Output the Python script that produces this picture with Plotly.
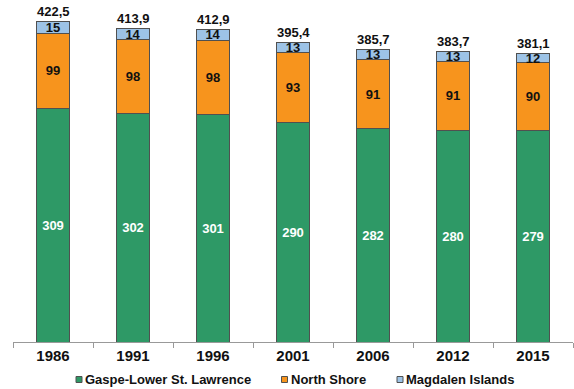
import plotly.graph_objects as go

years = ["1986", "1991", "1996", "2001", "2006", "2012", "2015"]
gaspe = [309, 302, 301, 290, 282, 280, 279]
north_shore = [99, 98, 98, 93, 91, 91, 90]
magdalen = [15, 14, 14, 13, 13, 13, 12]
totals = [422.5, 413.9, 412.9, 395.4, 385.7, 383.7, 381.1]
series_names = ["Gaspe-Lower St. Lawrence", "North Shore", "Magdalen Islands"]
series_colors = ["#2E9966", "#F7941D", "#9DC3E6"]

FONT = "Liberation Sans, Arial, sans-serif"
edge = dict(color="#505050", width=1)

W, H = 574, 389
ML, MR, MT, MB = 13, 1, 0, 47
PW, PH = W - ML - MR, H - MT - MB


def px_to_paper(px, py):
    return (px - ML) / PW, (H - MB - py) / PH


fig = go.Figure()
for name, vals, color, tcolor in zip(
        series_names, [gaspe, north_shore, magdalen], series_colors,
        ["white", "#111111", "#111111"]):
    fig.add_trace(go.Bar(
        x=years, y=vals, name=name,
        marker=dict(color=color, line=edge),
        text=[str(v) for v in vals], textposition="inside",
        insidetextanchor="middle", constraintext="none",
        textfont=dict(family=FONT, size=13, color=tcolor, weight="bold"),
        textangle=0, showlegend=False,
    ))

# Stack totals above each bar (category index as x position)
for i, t in enumerate(totals):
    fig.add_annotation(
        x=i, y=t, text=f"{t:.1f}".replace(".", ","),
        showarrow=False, yanchor="bottom", yshift=1,
        font=dict(family=FONT, size=13, color="#111111", weight="bold"),
    )

# Compact legend: small square swatch followed by the series name
legend_x = [79, 284.5, 400]
legend_y = 379.5
for name, color, cx in zip(series_names, series_colors, legend_x):
    x0, y0 = px_to_paper(cx - 3, legend_y + 3)
    x1, y1 = px_to_paper(cx + 3, legend_y - 3)
    fig.add_shape(type="rect", xref="paper", yref="paper",
                  x0=x0, y0=y0, x1=x1, y1=y1,
                  fillcolor=color, line=dict(color="#505050", width=1))
    tx, ty = px_to_paper(cx + 4, legend_y)
    fig.add_annotation(
        xref="paper", yref="paper", x=tx, y=ty, text=name,
        showarrow=False, xanchor="left", yanchor="middle",
        font=dict(family=FONT, size=13, color="#111111", weight="bold"),
    )

fig.update_layout(
    width=W, height=H,
    barmode="stack", bargap=0.59,
    plot_bgcolor="white", paper_bgcolor="white",
    margin=dict(l=ML, r=MR, t=MT, b=MB, autoexpand=False),
    font=dict(family=FONT, color="#111111"),
    showlegend=False,
    xaxis=dict(
        type="category", range=[-0.5, 6.5],
        showline=True, linecolor="#999999", linewidth=1,
        ticks="outside", tickson="boundaries", ticklen=5, tickcolor="#999999",
        tickfont=dict(family=FONT, size=15, color="#111111", weight="bold"),
        showgrid=False, automargin=False,
    ),
    yaxis=dict(range=[0, 452], visible=False, showgrid=False),
)

fig.write_html("out.html")
